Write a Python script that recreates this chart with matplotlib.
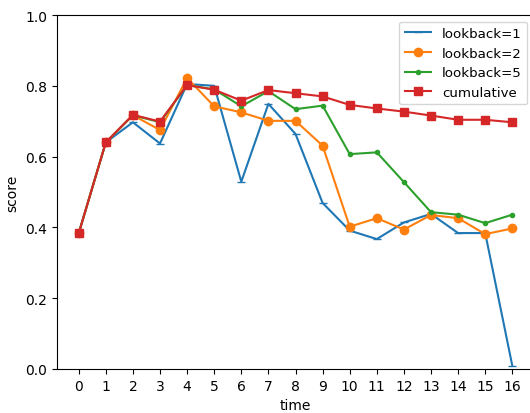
import matplotlib
matplotlib.use("Agg")
import matplotlib.pyplot as plt

time = list(range(17))
lookback1 = [0.383, 0.640, 0.697, 0.637, 0.805, 0.800, 0.529, 0.749, 0.664, 0.469,
             0.391, 0.367, 0.414, 0.438, 0.384, 0.384, 0.009]
lookback2 = [0.383, 0.640, 0.717, 0.675, 0.822, 0.742, 0.725, 0.701, 0.701, 0.631,
             0.402, 0.426, 0.394, 0.435, 0.426, 0.381, 0.397]
lookback5 = [0.383, 0.640, 0.717, 0.697, 0.802, 0.790, 0.742, 0.785, 0.734, 0.744,
             0.607, 0.612, 0.528, 0.443, 0.436, 0.412, 0.436]
cumulative = [0.383, 0.640, 0.718, 0.699, 0.802, 0.789, 0.758, 0.788, 0.779, 0.770,
              0.746, 0.736, 0.727, 0.716, 0.704, 0.704, 0.697]

fig = plt.figure(figsize=(5.30, 4.14), dpi=100)
ax = fig.add_axes([57 / 530, 1 - 370 / 414, 477 / 530, 354 / 414])

ax.plot(time, lookback1, marker="_", label="lookback=1")
ax.plot(time, lookback2, marker="o", label="lookback=2")
ax.plot(time, lookback5, marker=".", label="lookback=5")
ax.plot(time, cumulative, marker="s", label="cumulative")

ax.set_ylim(0.0, 1.0)
ax.set_xticks(time)
ax.set_xlabel("time")
ax.set_ylabel("score")
ax.legend(loc="upper right", fontsize=9.6)

fig.savefig("out.png", dpi=100)
